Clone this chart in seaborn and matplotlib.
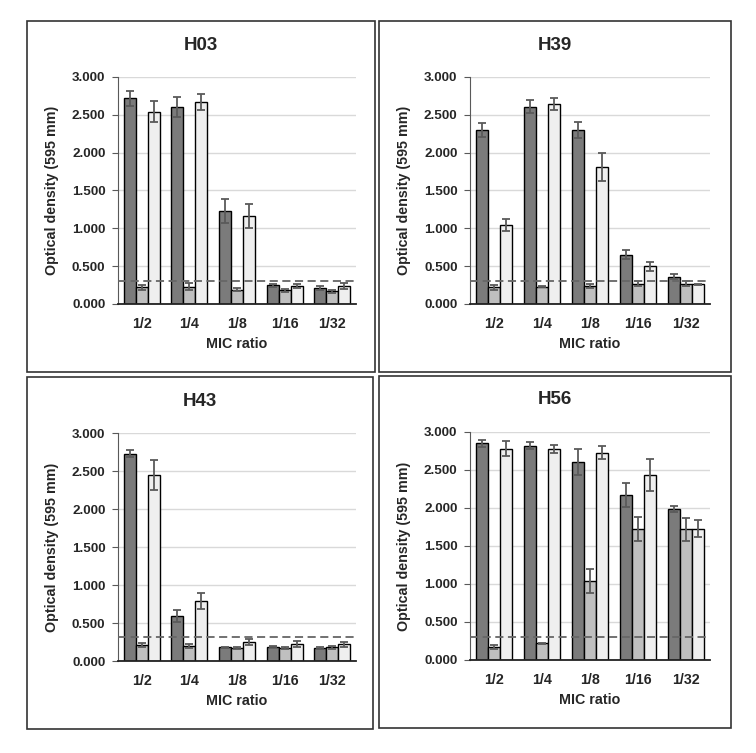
"""Biofilm optical density at sub-MIC ratios, four isolates."""

import matplotlib

matplotlib.use("Agg")
import matplotlib.pyplot as plt
import numpy as np
import pandas as pd
import seaborn as sns
from matplotlib.patches import Rectangle

sns.set_style("white")
plt.rcParams["font.family"] = ["Liberation Sans", "DejaVu Sans"]
plt.rcParams["font.weight"] = "bold"

ratios = ["1/2", "1/4", "1/8", "1/16", "1/32"]
series = ["A", "B", "C"]
colors = ["#7b7b7b", "#bfbfbf", "#efefef"]
cutoff = {"H03": 0.31, "H39": 0.30, "H43": 0.31, "H56": 0.30}

# mean values per series (A, B, C) across ratios
h03_a = [2.72, 2.60, 1.23, 0.25, 0.21]
h03_b = [0.22, 0.23, 0.19, 0.18, 0.17]
h03_c = [2.54, 2.67, 1.16, 0.24, 0.24]
h03_a_err = [0.10, 0.13, 0.16, 0.02, 0.03]
h03_b_err = [0.03, 0.05, 0.02, 0.02, 0.02]
h03_c_err = [0.14, 0.10, 0.16, 0.03, 0.04]

h39_a = [2.30, 2.61, 2.30, 0.65, 0.36]
h39_b = [0.22, 0.23, 0.24, 0.27, 0.27]
h39_c = [1.04, 2.64, 1.81, 0.50, 0.26]
h39_a_err = [0.09, 0.08, 0.10, 0.06, 0.03]
h39_b_err = [0.03, 0.01, 0.03, 0.03, 0.03]
h39_c_err = [0.08, 0.08, 0.19, 0.06, 0.01]

h43_a = [2.73, 0.59, 0.18, 0.19, 0.17]
h43_b = [0.21, 0.20, 0.17, 0.17, 0.18]
h43_c = [2.45, 0.79, 0.25, 0.22, 0.22]
h43_a_err = [0.04, 0.08, 0.01, 0.01, 0.01]
h43_b_err = [0.03, 0.03, 0.01, 0.01, 0.02]
h43_c_err = [0.20, 0.11, 0.04, 0.04, 0.03]

h56_a = [2.85, 2.82, 2.61, 2.17, 1.99]
h56_b = [0.17, 0.22, 1.04, 1.72, 1.72]
h56_c = [2.78, 2.78, 2.73, 2.43, 1.73]
h56_a_err = [0.05, 0.05, 0.17, 0.16, 0.04]
h56_b_err = [0.03, 0.01, 0.16, 0.16, 0.15]
h56_c_err = [0.10, 0.05, 0.09, 0.21, 0.11]

panels = {
    "H03": ([h03_a, h03_b, h03_c], [h03_a_err, h03_b_err, h03_c_err]),
    "H39": ([h39_a, h39_b, h39_c], [h39_a_err, h39_b_err, h39_c_err]),
    "H43": ([h43_a, h43_b, h43_c], [h43_a_err, h43_b_err, h43_c_err]),
    "H56": ([h56_a, h56_b, h56_c], [h56_a_err, h56_b_err, h56_c_err]),
}

W, H = 756, 753
# pixel layout: box (x0, y0, x1, y1), axes (left, top, right, bottom)
layout = {
    "H03": ((27, 21, 375, 372), (118, 77, 356, 304)),
    "H39": ((379, 21, 731, 372), (470, 77, 710, 304)),
    "H43": ((27, 377, 373, 729), (118, 433, 356, 661)),
    "H56": ((379, 376, 731, 728), (470, 432, 710, 660)),
}

fig = plt.figure(figsize=(W / 100, H / 100), dpi=100)

for name, (means, errs) in panels.items():
    box, axpx = layout[name]
    fig.patches.append(Rectangle((box[0] / W, 1 - box[3] / H), (box[2] - box[0]) / W,
                                 (box[3] - box[1]) / H, transform=fig.transFigure,
                                 fill=False, edgecolor="#333333", linewidth=1.2))
    fig.text((box[0] + box[2]) / 2 / W, 1 - (box[1] + 24) / H, name, ha="center", va="center",
             fontsize=13.5, fontweight="bold")

    ax = fig.add_axes([axpx[0] / W, 1 - axpx[3] / H, (axpx[2] - axpx[0]) / W, (axpx[3] - axpx[1]) / H])
    df = pd.DataFrame({
        "ratio": np.repeat([ratios], 3, axis=0).ravel(),
        "series": np.repeat(series, len(ratios)),
        "od": np.concatenate(means),
    })
    sns.barplot(data=df, x="ratio", y="od", hue="series", order=ratios, hue_order=series,
                palette=colors, width=0.76, gap=0, errorbar=None, legend=False,
                edgecolor="black", linewidth=1.0, saturation=1, ax=ax)
    for container, err in zip(ax.containers, errs):
        xs = [p.get_x() + p.get_width() / 2 for p in container.patches]
        hs = [p.get_height() for p in container.patches]
        ax.errorbar(xs, hs, yerr=err, fmt="none", ecolor="#5a5a5a", elinewidth=1.3,
                    capsize=3.2, capthick=1.3, zorder=4)
    ax.axhline(cutoff[name], color="#666666", linestyle=(0, (4.5, 2.5)), linewidth=1.3, zorder=5)

    ax.set_xlim(-0.5, 4.5)
    ax.set_ylim(0, 3.0)
    ax.set_yticks(np.arange(0, 3.01, 0.5))
    ax.set_yticklabels([f"{v:.3f}" for v in np.arange(0, 3.01, 0.5)])
    ax.yaxis.grid(True, color="#d9d9d9", linewidth=1.0)
    ax.set_axisbelow(True)
    for side in ["top", "right"]:
        ax.spines[side].set_visible(False)
    ax.spines["left"].set_color("#595959")
    ax.spines["bottom"].set_color("#222222")
    ax.spines["bottom"].set_linewidth(1.3)
    ax.tick_params(axis="y", left=True, length=4, color="#595959", labelsize=9.7, pad=5)
    ax.tick_params(axis="x", bottom=False, labelsize=10.3, pad=6)
    for lab in ax.get_xticklabels() + ax.get_yticklabels():
        lab.set_fontweight("bold")
    ax.set_xlabel("MIC ratio", fontsize=10.3, fontweight="bold", labelpad=4)
    ax.set_ylabel("Optical density (595 mm)", fontsize=10.3, fontweight="bold", labelpad=9)

fig.savefig("out.png", dpi=100)
